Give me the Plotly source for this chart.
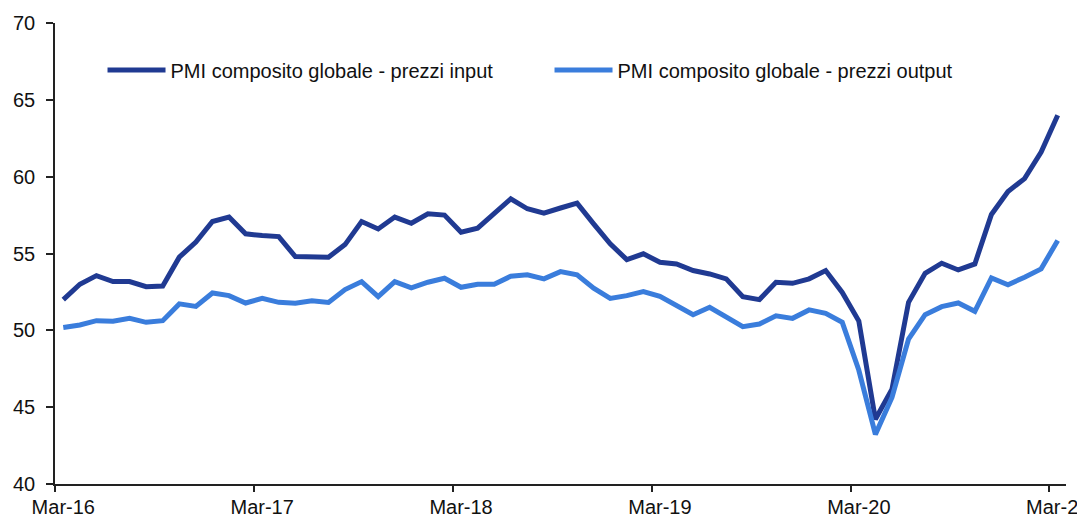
import plotly.graph_objects as go

months = ["Mar-16","Apr-16","May-16","Jun-16","Jul-16","Aug-16","Sep-16","Oct-16","Nov-16","Dec-16","Jan-17","Feb-17",
          "Mar-17","Apr-17","May-17","Jun-17","Jul-17","Aug-17","Sep-17","Oct-17","Nov-17","Dec-17","Jan-18","Feb-18",
          "Mar-18","Apr-18","May-18","Jun-18","Jul-18","Aug-18","Sep-18","Oct-18","Nov-18","Dec-18","Jan-19","Feb-19",
          "Mar-19","Apr-19","May-19","Jun-19","Jul-19","Aug-19","Sep-19","Oct-19","Nov-19","Dec-19","Jan-20","Feb-20",
          "Mar-20","Apr-20","May-20","Jun-20","Jul-20","Aug-20","Sep-20","Oct-20","Nov-20","Dec-20","Jan-21","Feb-21",
          "Mar-21"]

prezzi_input = [52.0, 53.0, 53.56, 53.17, 53.17, 52.84, 52.88, 54.76, 55.74, 57.08, 57.37, 56.28,
                56.17, 56.1, 54.8, 54.74, 54.76, 55.58, 57.08, 56.6, 57.37, 56.97, 57.58, 57.5,
                56.39, 56.65, 57.58, 58.56, 57.91, 57.63, 57.96, 58.28, 56.93, 55.63, 54.6, 54.98,
                54.43, 54.32, 53.89, 53.67, 53.35, 52.19, 52.0, 53.13, 53.06, 53.35, 53.89, 52.47,
                50.6, 44.21, 46.17, 51.82, 53.71, 54.37, 53.93, 54.32, 57.54, 59.04, 59.87, 61.6,
                64.0]

prezzi_output = [50.19, 50.35, 50.63, 50.59, 50.78, 50.52, 50.63, 51.72, 51.56, 52.43, 52.26, 51.78,
                 52.08, 51.82, 51.76, 51.93, 51.82, 52.65, 53.17, 52.19, 53.17, 52.76, 53.13, 53.39,
                 52.8, 53.0, 53.0, 53.52, 53.61, 53.35, 53.82, 53.61, 52.74, 52.08, 52.26, 52.52,
                 52.21, 51.6, 51.02, 51.5, 50.85, 50.24, 50.41, 50.95, 50.78, 51.33, 51.11, 50.52,
                 47.4, 43.23, 45.63, 49.43, 51.02, 51.54, 51.78, 51.24, 53.41, 52.97, 53.46, 54.0,
                 55.85]

series_names = ["PMI composito globale - prezzi input", "PMI composito globale - prezzi output"]
tick_labels = ["Mar-16", "Mar-17", "Mar-18", "Mar-19", "Mar-20", "Mar-21"]

idx = list(range(len(months)))
tick_positions = [months.index(t) for t in tick_labels]
boundary_ticks = [p - 0.5 for p in tick_positions]

FONT = "Liberation Sans, Arial, sans-serif"
DARK = "#203A92"
LIGHT = "#3A7DDC"

fig = go.Figure()
fig.add_trace(go.Scatter(x=idx, y=prezzi_input, mode="lines", name=series_names[0],
                         line=dict(color=DARK, width=5), customdata=months,
                         hovertemplate="%{customdata}: %{y}<extra></extra>"))
fig.add_trace(go.Scatter(x=idx, y=prezzi_output, mode="lines", name=series_names[1],
                         line=dict(color=LIGHT, width=5), customdata=months,
                         hovertemplate="%{customdata}: %{y}<extra></extra>"))

# The page body adds an 8px margin, so the figure is sized 8px smaller than the window.
fig.update_layout(
    width=1077, height=512,
    margin=dict(l=47, r=19, t=15, b=36, autoexpand=False),
    paper_bgcolor="white", plot_bgcolor="white",
    font=dict(family=FONT, size=20, color="#111111"),
    showlegend=True,
    legend=dict(orientation="h", x=0.047, y=0.898, xanchor="left", yanchor="middle",
                bgcolor="rgba(0,0,0,0)", font=dict(size=20), itemwidth=58,
                entrywidth=374, entrywidthmode="pixels"),
    xaxis=dict(range=[-0.5, 60.5], tickmode="array", tickvals=tick_positions, ticktext=tick_labels,
               ticks="", showgrid=False, zeroline=False, showline=True, linecolor="#222222", linewidth=1.5,
               minor=dict(tickmode="array", tickvals=boundary_ticks, ticks="outside", ticklen=6,
                          tickcolor="#222222", tickwidth=1.5, showgrid=False),
               tickfont=dict(size=20), ticklabeloverflow="allow", ticklabelstandoff=4, automargin=False),
    yaxis=dict(range=[40, 70], tickmode="array", tickvals=[40, 45, 50, 55, 60, 65, 70],
               ticks="outside", ticklen=7, tickcolor="#222222", tickwidth=1.5,
               showgrid=False, zeroline=False, showline=True, linecolor="#222222", linewidth=1.5,
               tickfont=dict(size=20), ticklabelstandoff=7, automargin=False),
)

fig.write_html("out.html")
